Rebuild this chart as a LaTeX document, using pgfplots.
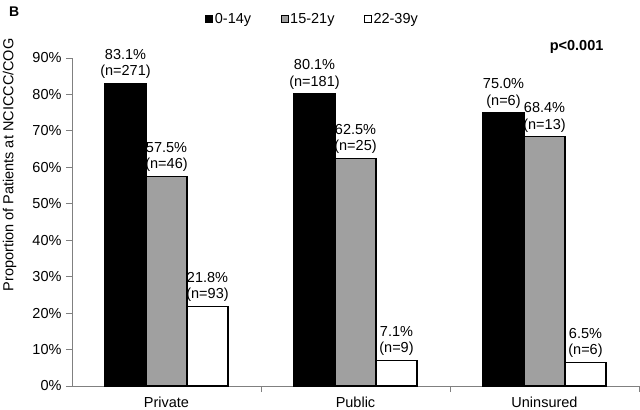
\documentclass[border=0pt]{standalone}
\usepackage{pgfplots}
\pgfplotsset{compat=1.18}
\usepackage{fontspec}
\setmainfont{Liberation Sans}
\definecolor{midgray}{RGB}{160,160,160}
\definecolor{axgray}{RGB}{128,128,128}
\begin{document}
\begin{tikzpicture}[font=\fontsize{14.5bp}{16.5bp}\selectfont]
\begin{axis}[
  scale only axis, width=567bp, height=328bp,
  ybar=0pt, bar width=41bp,
  xmin=-0.5, xmax=2.5, ymin=0, ymax=90,
  clip=false,
  axis x line*=bottom, axis y line*=left,
  axis line style={draw=axgray, line width=0.8bp},
  xtick={0,1,2}, xticklabels={Private,Public,Uninsured},
  major x tick style={draw=none},
  minor xtick={0.5,1.5,2.5},
  minor x tick style={draw=axgray, line width=0.8bp},
  minor tick length=6bp,
  ytick={0,10,...,90},
  yticklabel={\pgfmathprintnumber{\tick}\%},
  major y tick style={draw=axgray, line width=0.8bp},
  major tick length=6bp,
  tick align=outside,
  tick label style={font=\fontsize{14.5bp}{16.5bp}\selectfont},
  /pgf/number format/assume math mode=true,
  x tick label style={yshift=-1bp},
  y tick label style={xshift=-1bp},
  ylabel={Proportion of Patients at NCICCC/COG},
  ylabel style={at={(axis description cs:-0.110,0.674)}, anchor=center, font=\fontsize{14.5bp}{16.5bp}\selectfont},
  point meta=explicit symbolic,
  nodes near coords={\pgfplotspointmeta},
  every node near coord/.append style={align=center, anchor=south, inner sep=1bp, yshift=3bp, font=\fontsize{14.5bp}{16.5bp}\selectfont},
  legend style={draw=none, at={(axis description cs:0.424,1.119)}, anchor=center,
    legend columns=3, /tikz/every even column/.append style={column sep=28bp},
    nodes={inner sep=1.5bp}, font=\fontsize{14.5bp}{16.5bp}\selectfont},
  legend image code/.code={\draw[#1, line width=1bp, draw=black] (0bp,-3.5bp) rectangle (7bp,3.5bp);},
]
\addplot[fill=black, draw=black, line width=1.2bp] coordinates {
  (0,83.1) [83.1\%\\(n=271)]
  (1,80.1) [80.1\%\\(n=181)]
  (2,75.0) [75.0\%\\(n=6)]
};
\addplot[fill=midgray, draw=black, line width=1.2bp] coordinates {
  (0,57.5) [57.5\%\\(n=46)]
  (1,62.5) [62.5\%\\(n=25)]
  (2,68.4) [68.4\%\\(n=13)]
};
\addplot[fill=white, draw=black, line width=1.2bp] coordinates {
  (0,21.8) [21.8\%\\(n=93)]
  (1,7.1) [7.1\%\\(n=9)]
  (2,6.5) [6.5\%\\(n=6)]
};
\legend{0-14y,15-21y,22-39y}
\coordinate (ll) at (rel axis cs:0,0);
\node[font=\fontsize{14bp}{16bp}\selectfont\bfseries] at (axis description cs:-0.102,1.14) {B};
\node[font=\fontsize{14.5bp}{16bp}\selectfont\bfseries] at (axis description cs:0.89,1.034) {p<0.001};
\end{axis}
\pgfresetboundingbox
\path[use as bounding box] (ll) ++(-72bp,-24bp) rectangle ++(640bp,410bp);
\end{tikzpicture}
\end{document}
